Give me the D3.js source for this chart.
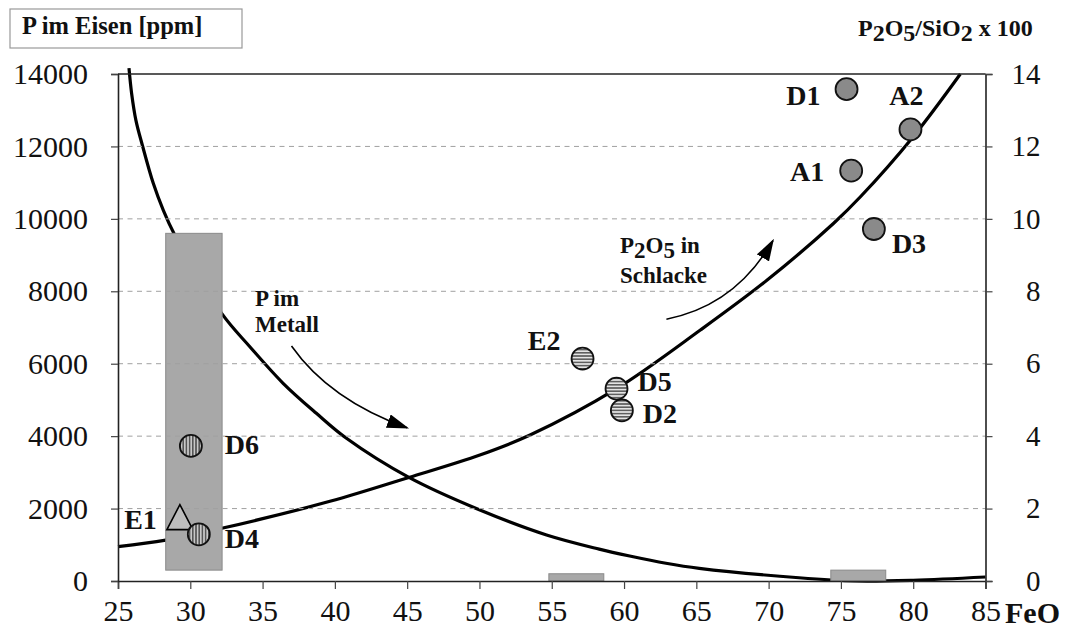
<!DOCTYPE html>
<html><head><meta charset="utf-8">
<script src="https://cdn.jsdelivr.net/npm/d3@7"></script>
<style>
body{margin:0;background:#fff}
svg{display:block}
text{font-family:"Liberation Serif","Times New Roman",serif;fill:#111}
</style>
</head><body>
<svg id="chart" width="1079" height="628"></svg>
<script>
// ---------- data ----------
const xTicks = [25,30,35,40,45,50,55,60,65,70,75,80,85];
const leftTicks = [0,2000,4000,6000,8000,10000,12000,14000];
const rightTicks = [0,2,4,6,8,10,12,14];

// P im Metall (ppm)
const metalFeO = [25.76,25.94,26.24,26.68,27.44,28.13,28.89,32.17,34.12,36.42,38.72,40.8,45.12,50.03,54.64,58.28,60.39,62.9,65.2,72.1,76,80,85];
const metalPpm = [14160,13470,12720,12040,10980,10240,9580,7390,6470,5460,4630,3940,2860,1960,1270,880,690,490,350,90,0,20,110];

// P2O5/SiO2 x 100 (right axis)
const slagFeO = [25,28.3,32.18,39.66,45.12,50.03,53.5,59.48,65.28,69.9,74.5,76.35,80.0,83.26];
const slagRatio = [0.95,1.13,1.455,2.2,2.86,3.48,4.03,5.31,6.93,8.31,9.88,10.61,12.27,14.0];

// grey range bars (FeO from-to, ppm from-to)
const barFeO0 = [28.3,54.8,74.3];
const barFeO1 = [32.2,58.6,78.1];
const barPpm0 = [300,0,0];
const barPpm1 = [9600,200,300];

// sample points (FeO, P in ppm)
const solidNames = ["D1","A2","A1","D3"];
const solidFeO = [75.39,79.81,75.71,77.28];
const solidPpm = [13580,12470,11330,9720];

const hStripeNames = ["E2","D2","D5"];
const hStripeFeO = [57.13,59.85,59.48];
const hStripePpm = [6140,4710,5310];

const vStripeNames = ["D6","D4"];
const vStripeFeO = [30.04,30.59];
const vStripePpm = [3730,1290];

const triNames = ["E1"];
const triFeO = [29.28];
const triPpm = [1750];

// ---------- layout ----------
const L = 118, R = 985.5, T = 74, B = 581;
const svg = d3.select("#chart");
const SERIF = "Liberation Serif, Times New Roman, serif";

const x = d3.scaleLinear().domain([25,85]).range([L,R]);
const yL = d3.scaleLinear().domain([0,14000]).range([B,T]);
const yR = d3.scaleLinear().domain([0,14]).range([B,T]);

// label placement (pixel offsets from the marker)
const labelPos = {
  D1:{dx:-26,dy:16,a:"end"}, A2:{dx:-4,dy:-24,a:"middle"}, A1:{dx:-27,dy:10,a:"end"},
  D3:{dx:18,dy:24,a:"start"}, E2:{dx:-22,dy:-9,a:"end"}, D5:{dx:21,dy:2,a:"start"},
  D2:{dx:21,dy:13,a:"start"}, D6:{dx:34,dy:8,a:"start"}, D4:{dx:26,dy:14,a:"start"},
  E1:{dx:-23,dy:11,a:"end"}
};

const defs = svg.append("defs");
const ph = defs.append("pattern").attr("id","hstripe").attr("patternUnits","userSpaceOnUse")
  .attr("width",6).attr("height",3.2);
ph.append("rect").attr("width",6).attr("height",3.2).attr("fill","#e4e4e4");
ph.append("line").attr("x1",0).attr("x2",6).attr("y1",0.8).attr("y2",0.8).attr("stroke","#222").attr("stroke-width",1.1);
const pv = defs.append("pattern").attr("id","vstripe").attr("patternUnits","userSpaceOnUse")
  .attr("width",3.2).attr("height",6);
pv.append("rect").attr("width",3.2).attr("height",6).attr("fill","#c8c8c8");
pv.append("line").attr("y1",0).attr("y2",6).attr("x1",0.8).attr("x2",0.8).attr("stroke","#222").attr("stroke-width",1.1);
defs.append("marker").attr("id","ah").attr("markerUnits","userSpaceOnUse")
  .attr("viewBox","0 0 22 14").attr("markerWidth",22).attr("markerHeight",14)
  .attr("refX",20).attr("refY",7).attr("orient","auto")
  .append("path").attr("d","M0,0 L22,7 L0,14 Z").attr("fill","#000");

// ---------- curves ----------
const metalLine = d3.line().x(d=>x(d[0])).y(d=>yL(d[1])).curve(d3.curveCatmullRom.alpha(0.5));
const slagLine = d3.line().x(d=>x(d[0])).y(d=>yR(d[1])).curve(d3.curveCatmullRom.alpha(0.5));
svg.append("path").datum(metalFeO.map((v,i)=>[v,metalPpm[i]]))
  .attr("d",metalLine).attr("fill","none").attr("stroke","#000").attr("stroke-width",3.2);
svg.append("path").datum(slagFeO.map((v,i)=>[v,slagRatio[i]]))
  .attr("d",slagLine).attr("fill","none").attr("stroke","#000").attr("stroke-width",3.2);

// ---------- bars ----------
svg.append("g").selectAll("rect").data(barFeO0.map((v,i)=>i)).join("rect")
  .attr("x",i=>x(barFeO0[i])).attr("width",i=>x(barFeO1[i])-x(barFeO0[i]))
  .attr("y",i=>yL(barPpm1[i])).attr("height",i=>yL(barPpm0[i])-yL(barPpm1[i]))
  .attr("fill","#a8a8a8").attr("stroke","#8a8a8a").attr("stroke-width",1);

// ---------- grid ----------
svg.append("g").selectAll("line").data(leftTicks.filter(t=>t>0&&t<14000)).join("line")
  .attr("x1",L).attr("x2",R).attr("y1",d=>yL(d)).attr("y2",d=>yL(d))
  .attr("stroke","#a0a0a0").attr("stroke-width",1).attr("stroke-dasharray","5,4.5");

// ---------- frame / axes ----------
svg.append("line").attr("x1",L).attr("x2",R).attr("y1",T).attr("y2",T).attr("stroke","#222").attr("stroke-width",1.6);

const ax = svg.append("g").attr("transform",`translate(0,${B})`)
  .call(d3.axisBottom(x).tickValues(xTicks).tickSize(8).tickPadding(11).tickFormat(d3.format("d")));
const ayl = svg.append("g").attr("transform",`translate(${L},0)`)
  .call(d3.axisLeft(yL).tickValues(leftTicks).tickSize(7).tickPadding(23).tickFormat(d3.format("d")));
const ayr = svg.append("g").attr("transform",`translate(${R},0)`)
  .call(d3.axisRight(yR).tickValues(rightTicks).tickSize(7).tickPadding(8).tickFormat(d3.format("d")));
[ax,ayl,ayr].forEach(g=>{
  g.attr("font-family",SERIF);
  g.select(".domain").attr("stroke","#222").attr("stroke-width",1.6);
  g.selectAll(".tick line").attr("stroke","#444").attr("stroke-width",1.2);
  g.selectAll("text").attr("font-family",SERIF).style("font-family",SERIF).attr("fill","#111");
});
ax.attr("font-size",30); ayl.attr("font-size",30); ayr.attr("font-size",29);
ax.selectAll("text").attr("font-size",30).attr("dy","0.71em");
ayl.selectAll("text").attr("font-size",30);
ayr.selectAll("text").attr("font-size",29).attr("text-anchor","end").attr("x",55);

// ---------- markers ----------
const r = 11;
svg.append("g").selectAll("path").data(triNames.map((n,i)=>i)).join("path")
  .attr("d",i=>{const cx=x(triFeO[i]), cy=yL(triPpm[i]);
    return `M${cx},${cy-13} L${cx+13},${cy+12} L${cx-13},${cy+12} Z`;})
  .attr("fill","#bdbdbd").attr("stroke","#000").attr("stroke-width",1.6);
function circles(names,fx,fy,fill){
  svg.append("g").selectAll("circle").data(names.map((n,i)=>i)).join("circle")
    .attr("cx",i=>x(fx[i])).attr("cy",i=>yL(fy[i])).attr("r",r)
    .attr("fill",fill).attr("stroke","#111").attr("stroke-width",1.8);
}
circles(solidNames,solidFeO,solidPpm,"#8a8a8a");
circles(hStripeNames,hStripeFeO,hStripePpm,"url(#hstripe)");
circles(vStripeNames,vStripeFeO,vStripePpm,"url(#vstripe)");

function labels(names,fx,fy){
  svg.append("g").selectAll("text").data(names.map((n,i)=>i)).join("text")
    .attr("x",i=>x(fx[i])+labelPos[names[i]].dx).attr("y",i=>yL(fy[i])+labelPos[names[i]].dy)
    .attr("text-anchor",i=>labelPos[names[i]].a)
    .attr("font-size",28).attr("font-weight","bold").text(i=>names[i]);
}
labels(solidNames,solidFeO,solidPpm);
labels(hStripeNames,hStripeFeO,hStripePpm);
labels(vStripeNames,vStripeFeO,vStripePpm);
labels(triNames,triFeO,triPpm);

// ---------- arrows & annotations ----------
const arrows = [
  {p0:[37.0,6490], c:[39.63,5000], p1:[45.0,4230]},
  {p0:[62.93,7230], c:[67.69,7600], p1:[70.3,9400]}
];
svg.append("g").selectAll("path").data(arrows).join("path")
  .attr("d",a=>`M${x(a.p0[0])},${yL(a.p0[1])} Q${x(a.c[0])},${yL(a.c[1])} ${x(a.p1[0])},${yL(a.p1[1])}`)
  .attr("fill","none").attr("stroke","#000").attr("stroke-width",1.6).attr("marker-end","url(#ah)");

const ann = svg.append("g").attr("font-weight","bold").attr("font-size",23);
ann.append("text").attr("x",255).attr("y",306).text("P im");
ann.append("text").attr("x",255).attr("y",332).text("Metall");
const t1 = ann.append("text").attr("x",620).attr("y",253);
t1.append("tspan").text("P");
t1.append("tspan").attr("dy",5).text("2");
t1.append("tspan").attr("dy",-5).text("O");
t1.append("tspan").attr("dy",5).text("5");
t1.append("tspan").attr("dy",-5).text(" in");
ann.append("text").attr("x",620).attr("y",283).text("Schlacke");

// ---------- titles ----------
svg.append("rect").attr("x",10).attr("y",9).attr("width",232).attr("height",39)
  .attr("fill","none").attr("stroke","#999").attr("stroke-width",1.2);
svg.append("text").attr("x",22).attr("y",34).attr("font-size",24.5).attr("font-weight","bold").text("P im Eisen [ppm]");
const rt = svg.append("text").attr("x",858).attr("y",36).attr("font-size",24).attr("font-weight","bold");
rt.append("tspan").text("P");
rt.append("tspan").attr("dy",5).text("2");
rt.append("tspan").attr("dy",-5).text("O");
rt.append("tspan").attr("dy",5).text("5");
rt.append("tspan").attr("dy",-5).text("/SiO");
rt.append("tspan").attr("dy",5).text("2");
rt.append("tspan").attr("dy",-5).text(" x 100");
svg.append("text").attr("x",1005).attr("y",623).attr("font-size",30).attr("font-weight","bold").text("FeO");
</script>
</body></html>
